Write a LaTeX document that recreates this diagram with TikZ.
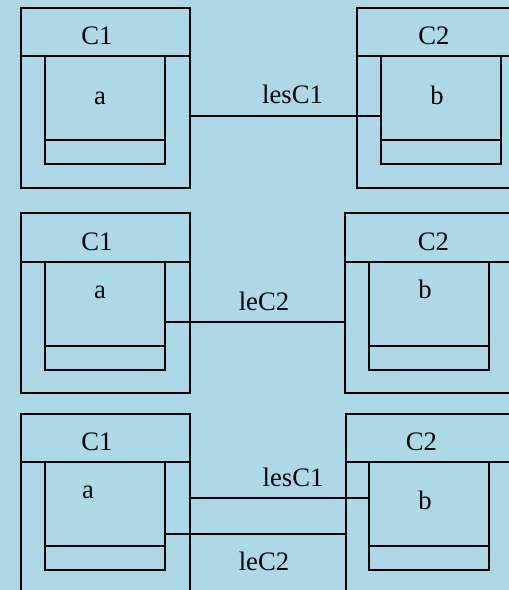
\documentclass[tikz,border=0pt]{standalone}
\usepackage{fontspec}
\setmainfont{Liberation Serif}
\usepackage{tikz}

\definecolor{bgblue}{RGB}{173,216,230}

\tikzset{
  classbox/.style={draw, line width=1.5pt, inner sep=0pt, outer sep=0pt, anchor=north west,
    minimum width=126.75pt, minimum height=135pt},
  attrbox/.style={draw, line width=1.5pt, inner sep=0pt, outer sep=0pt, anchor=north west,
    minimum width=90pt, minimum height=81pt},
  rule/.style={line width=1.5pt},
  lbl/.style={inner sep=0.75pt, anchor=base, font=\fontsize{20}{24}\selectfont},
}

\begin{document}
\begin{tikzpicture}[x=0.75pt,y=0.75pt,yscale=-1,xscale=1]
\useasboundingbox (0,0) rectangle (509,590);
\clip (0,0) rectangle (509,590);
\fill[bgblue] (0,0) rectangle (509,590);

%% first pair : C1 --lesC1--> b
% Outer boxes
\node[classbox] (c1top) at (21,8) {};
\node[classbox] (c2top) at (357,8) {};
\draw[rule] (c1top.west |- 0,56) -- (c1top.east |- 0,56);
\draw[rule] (c2top.west |- 0,56) -- (c2top.east |- 0,56);
% Inner boxes
\node[attrbox] (atop) at (45,56) {};
\node[attrbox] (btop) at (381,56) {};
\draw[rule] (atop.south west) ++(0,-24) -- ++(120,0);
\draw[rule] (btop.south west) ++(0,-24) -- ++(120,0);
% Link
\draw[rule] (c1top.east |- 0,116) -- (btop.west |- 0,116);
% Text Node
\node[lbl] (t1) at (97,44) {C1};
\node[lbl] (t2) at (434,44) {C2};
\node[lbl] (t3) at (100,104) {a};
\node[lbl] (t4) at (437,104) {b};
\node[lbl] (t5) at (292.5,103) {lesC1};

%% second pair : a --leC2--> C2
% Outer boxes
\node[classbox] (c1mid) at (21,213) {};
\node[classbox] (c2mid) at (345,213) {};
\draw[rule] (c1mid.west |- 0,262) -- (c1mid.east |- 0,262);
\draw[rule] (c2mid.west |- 0,262) -- (c2mid.east |- 0,262);
% Inner boxes
\node[attrbox] (amid) at (45,262) {};
\node[attrbox] (bmid) at (369,262) {};
\draw[rule] (amid.south west) ++(0,-24) -- ++(120,0);
\draw[rule] (bmid.south west) ++(0,-24) -- ++(120,0);
% Link
\draw[rule] (amid.east |- 0,322) -- (c2mid.west |- 0,322);
% Text Node
\node[lbl] (t6) at (97,250) {C1};
\node[lbl] (t7) at (433.5,250) {C2};
\node[lbl] (t8) at (100,298) {a};
\node[lbl] (t9) at (425,298) {b};
\node[lbl] (t10) at (264,310) {leC2};

%% third pair : both links
% Outer boxes
\node[classbox] (c1bot) at (21,414) {};
\node[classbox] (c2bot) at (346,414) {};
\draw[rule] (c1bot.west |- 0,462) -- (c1bot.east |- 0,462);
\draw[rule] (c2bot.west |- 0,462) -- (c2bot.east |- 0,462);
% Inner boxes
\node[attrbox] (abot) at (45,462) {};
\node[attrbox] (bbot) at (369,462) {};
\draw[rule] (abot.south west) ++(0,-24) -- ++(120,0);
\draw[rule] (bbot.south west) ++(0,-24) -- ++(120,0);
% Links
\draw[rule] (c1bot.east |- 0,498) -- (bbot.west |- 0,498);
\draw[rule] (abot.east |- 0,534) -- (c2bot.west |- 0,534);
% Text Node
\node[lbl] (t11) at (97,450) {C1};
\node[lbl] (t12) at (421.5,450) {C2};
\node[lbl] (t13) at (88,498) {a};
\node[lbl] (t14) at (425,509) {b};
\node[lbl] (t15) at (293,486) {lesC1};
\node[lbl] (t16) at (264,570) {leC2};

\end{tikzpicture}
\end{document}
